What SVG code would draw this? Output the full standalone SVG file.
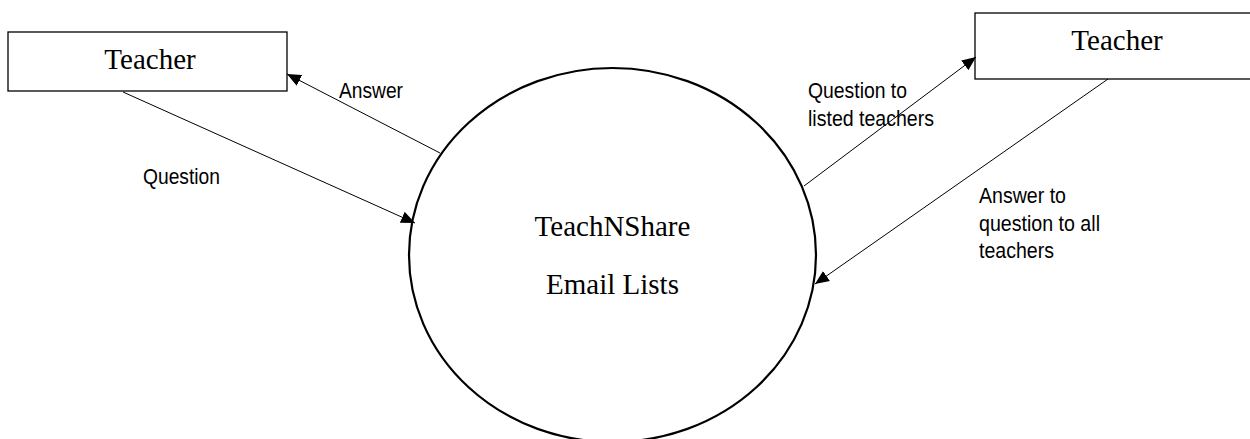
<svg xmlns="http://www.w3.org/2000/svg" width="1250" height="439" viewBox="0 0 1250 439">
<style>
.box{fill:#fff;stroke:#000;stroke-width:1.3}
.proc{fill:#fff;stroke:#000;stroke-width:2.2}
.serif{font-family:"Liberation Serif","Times New Roman",serif;font-size:29px;fill:#000;text-anchor:middle}
.lbl{font-family:"Liberation Sans Narrow","Liberation Sans",Arial,sans-serif;font-size:21.5px;fill:#000}
.flow{stroke:#000;stroke-width:1;fill:none;marker-end:url(#arr)}
</style>
<defs>
<marker id="arr" markerUnits="userSpaceOnUse" markerWidth="14" markerHeight="12" refX="14" refY="6" orient="auto">
<path d="M0,0 L14,6 L0,12 z" fill="#000"/>
</marker>
</defs>
<rect width="1250" height="439" fill="#fff"/>
<g id="teacher-left">
<rect class="box" x="8" y="32" width="279" height="59"/>
<text class="serif" x="150" y="69">Teacher</text>
</g>
<g id="teacher-right">
<rect class="box" x="975" y="13" width="283" height="66"/>
<text class="serif" x="1117" y="50">Teacher</text>
</g>
<g id="teachnshare">
<ellipse class="proc" cx="612.5" cy="255" rx="203.5" ry="187"/>
<text class="serif" x="612.5" y="236">TeachNShare</text>
<text class="serif" x="612.5" y="294">Email Lists</text>
</g>
<g id="connectors">
<line class="flow" x1="123" y1="92" x2="415" y2="223"/>
<line class="flow" x1="440" y1="153" x2="287" y2="74"/>
<line class="flow" x1="804" y1="186" x2="976" y2="57"/>
<line class="flow" x1="1108" y1="79" x2="815" y2="284"/>
<text class="lbl" x="143" y="184" textLength="77" lengthAdjust="spacingAndGlyphs">Question</text>
<text class="lbl" x="339" y="98" textLength="64" lengthAdjust="spacingAndGlyphs">Answer</text>
<text class="lbl" x="808" y="98" textLength="99" lengthAdjust="spacingAndGlyphs">Question to</text>
<text class="lbl" x="808" y="125.5" textLength="126" lengthAdjust="spacingAndGlyphs">listed teachers</text>
<text class="lbl" x="979" y="203" textLength="87" lengthAdjust="spacingAndGlyphs">Answer to</text>
<text class="lbl" x="979" y="230.5" textLength="121" lengthAdjust="spacingAndGlyphs">question to all</text>
<text class="lbl" x="979" y="258" textLength="75" lengthAdjust="spacingAndGlyphs">teachers</text>
</g>
</svg>
